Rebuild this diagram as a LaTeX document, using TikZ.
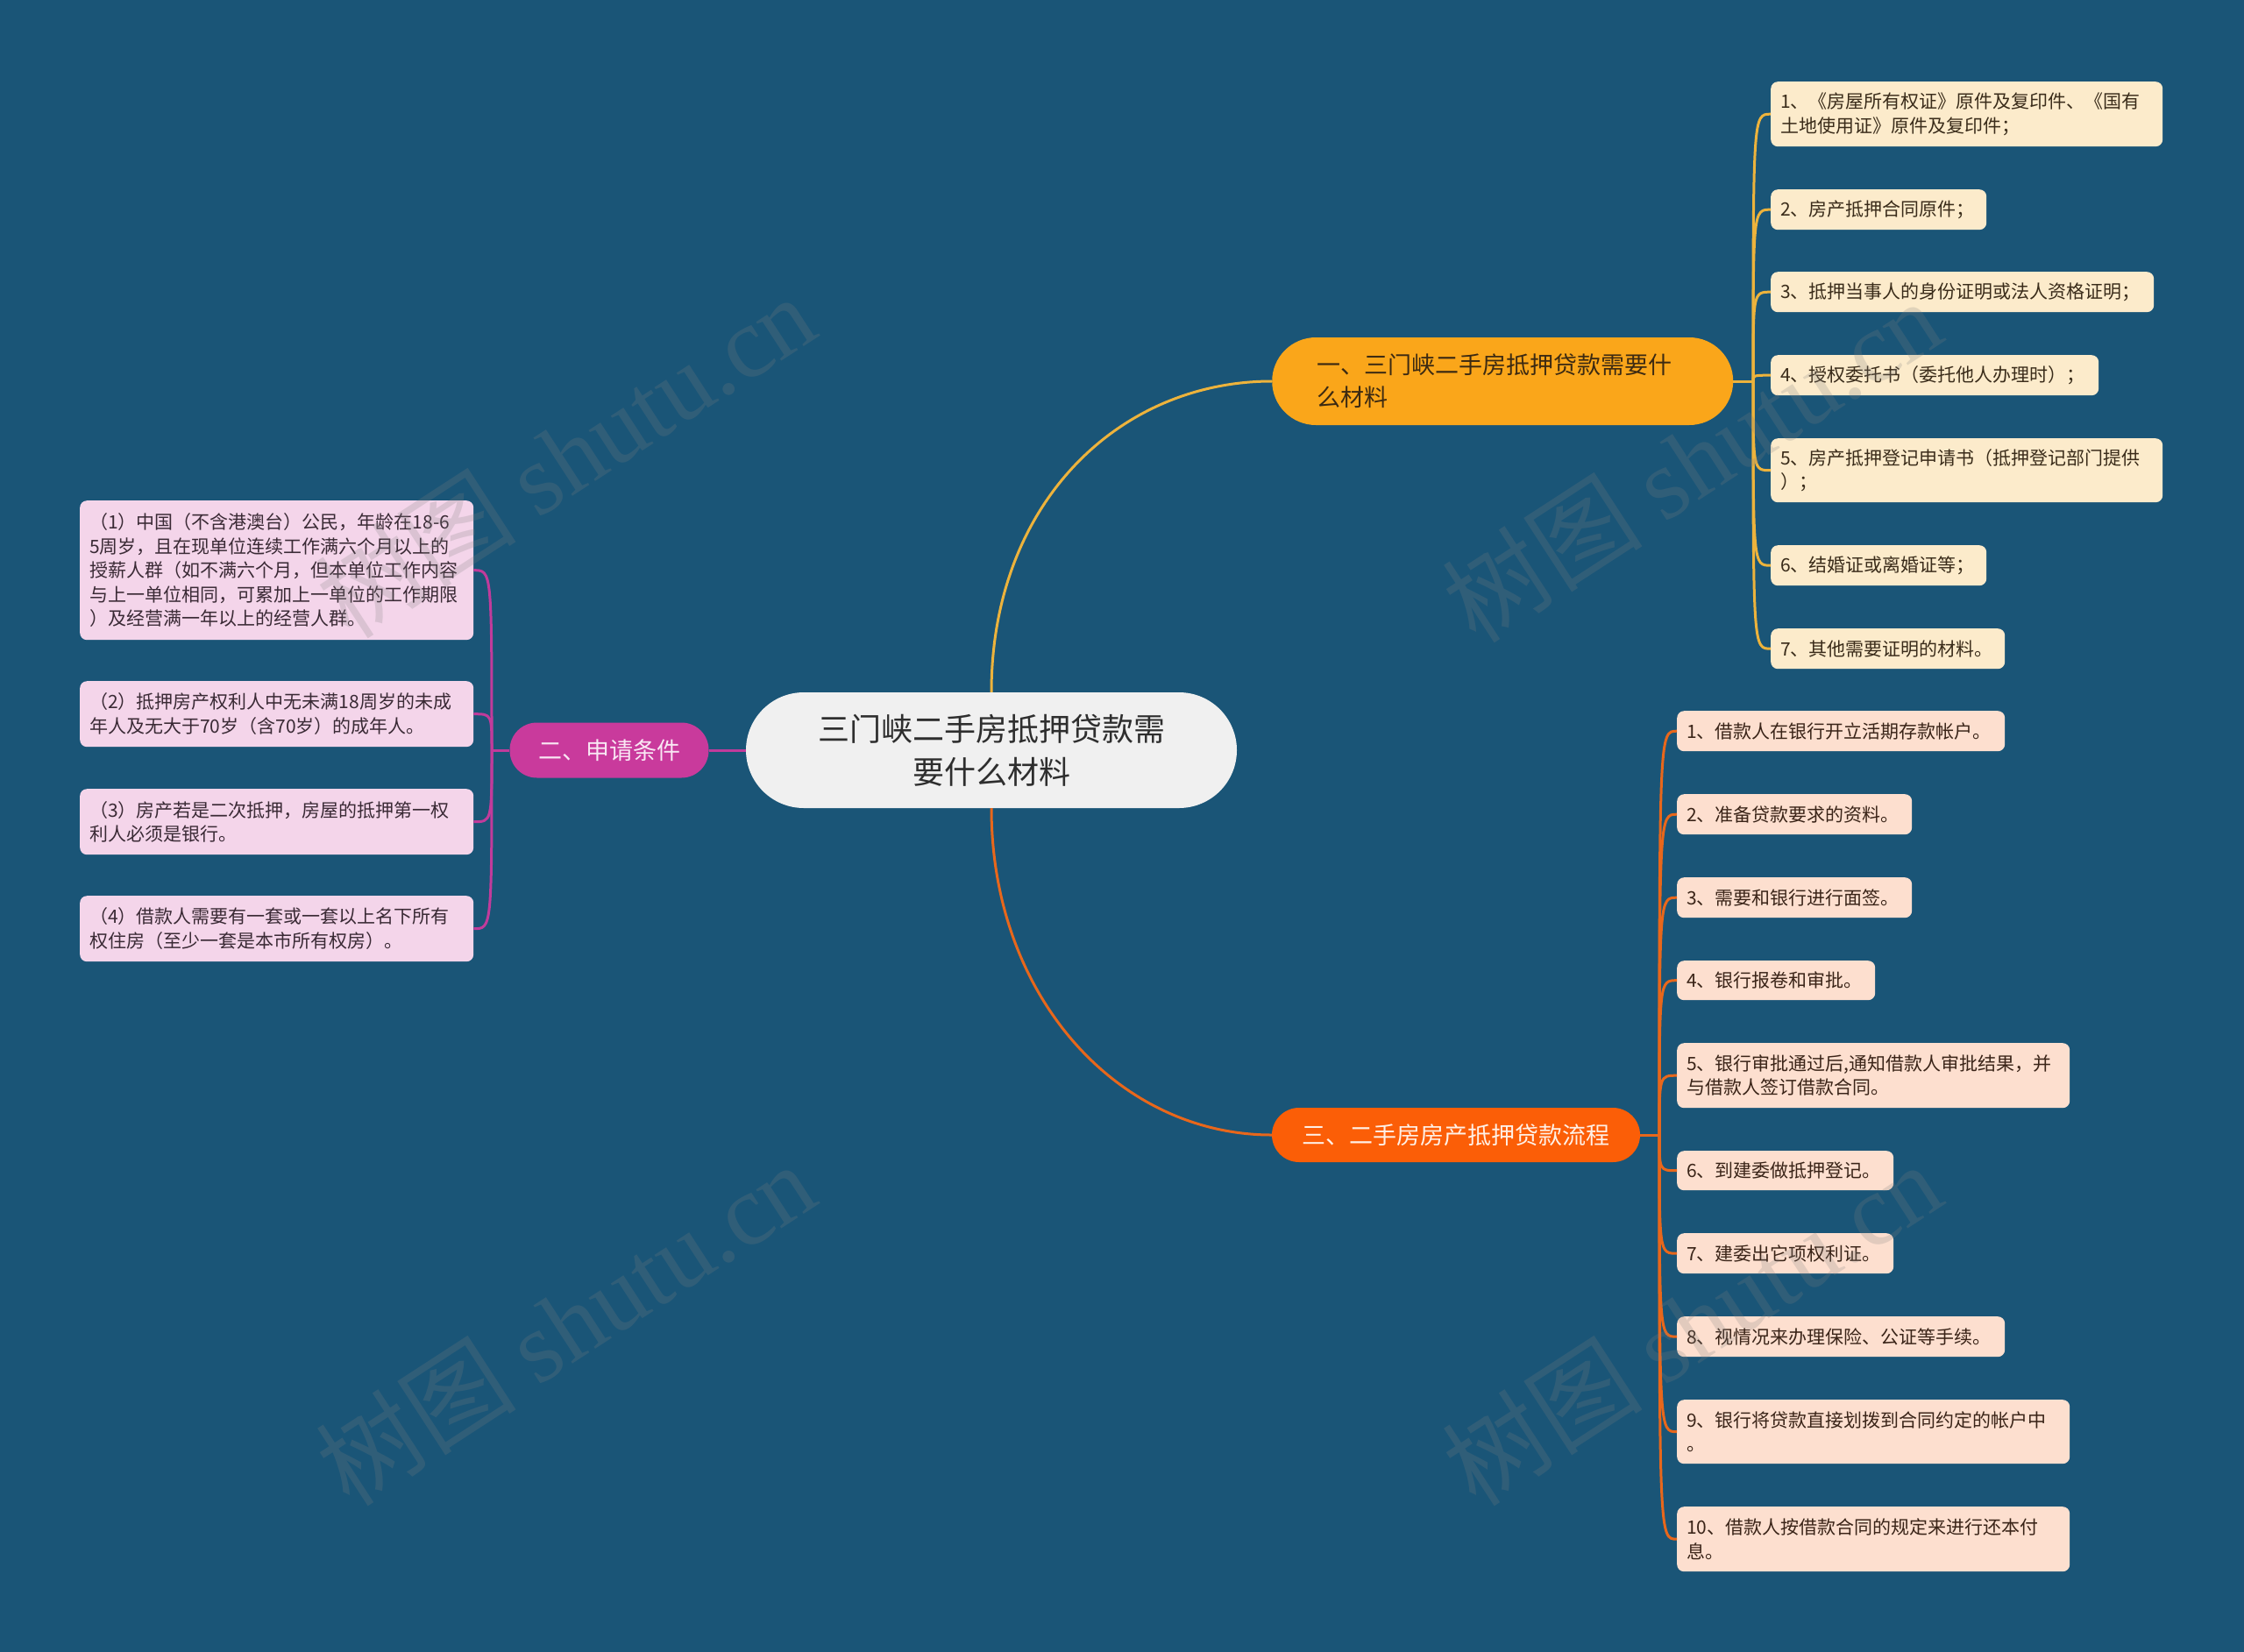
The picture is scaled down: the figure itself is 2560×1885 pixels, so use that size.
\documentclass[tikz,border=0pt]{standalone}
\usepackage{fontspec}
\setmainfont{Noto Sans CJK SC}
\newfontfamily\wmlatin{Liberation Serif}
\definecolor{bgc}{HTML}{1A5577}
\definecolor{ctrfill}{HTML}{F0F0F0}
\definecolor{ctrtext}{HTML}{2E2E2E}
\definecolor{oneFill}{HTML}{FAA61A}
\definecolor{oneText}{HTML}{3C2A12}
\definecolor{oneLine}{HTML}{EDB33C}
\definecolor{twoFill}{HTML}{C93A9C}
\definecolor{twoText}{HTML}{F9E6F3}
\definecolor{twoLine}{HTML}{C13B9B}
\definecolor{thrFill}{HTML}{FB5E07}
\definecolor{thrText}{HTML}{FFF0E6}
\definecolor{thrLine}{HTML}{E8671B}
\definecolor{creamFill}{HTML}{FCEBCB}
\definecolor{creamText}{HTML}{3A2C1A}
\definecolor{peachFill}{HTML}{FDDFCF}
\definecolor{peachText}{HTML}{3A2418}
\definecolor{pinkFill}{HTML}{F4D5EA}
\definecolor{pinkText}{HTML}{3A2A35}
\tikzset{
  leafbox/.style={rectangle, rounded corners=8pt, inner xsep=11pt, inner ysep=3pt,
    align=left, font=\fontsize{21}{27.5}\selectfont, anchor=north west},
  leafA/.style={leafbox, fill=creamFill, text=creamText},
  leafB/.style={leafbox, fill=peachFill, text=peachText},
  leafC/.style={leafbox, fill=pinkFill, text=pinkText},
  mainbox/.style={rectangle, inner sep=0pt, font=\fontsize{27}{37}\selectfont},
  wmark/.style={font=\fontsize{115}{115}\selectfont, text=gray, text opacity=0.22, rotate=33},
  lnA/.style={draw=oneLine, line width=3pt},
  lnB/.style={draw=thrLine, line width=3pt},
  lnC/.style={draw=twoLine, line width=3pt},
}
\begin{document}
\begin{tikzpicture}[x=1pt,y=-1pt]
\fill[bgc] (0,0) rectangle (2560,1885);
\useasboundingbox (0,0) rectangle (2560,1885);

% central node
\node[rectangle, rounded corners=66pt, fill=ctrfill, text=ctrtext, minimum width=560pt,
  minimum height=132pt, align=center, font=\fontsize{36}{49}\selectfont] (ctr) at (1131,856)
  {三门峡二手房抵押贷款需\\要什么材料};

% main branches
\node[mainbox, rounded corners=50pt, fill=oneFill, text=oneText, minimum width=526pt,
  minimum height=100pt, inner xsep=51pt, text width=424pt, align=left, anchor=west] (b1) at (1451,435)
  {一、三门峡二手房抵押贷款需要什\\么材料};
\node[mainbox, rounded corners=31pt, fill=twoFill, text=twoText, minimum width=227pt,
  minimum height=63pt] (b2) at (695,856) {二、申请条件};
\node[mainbox, rounded corners=31pt, fill=thrFill, text=thrText, minimum width=420pt,
  minimum height=62pt] (b3) at (1661,1295) {三、二手房房产抵押贷款流程};

% leaves of branch 1
\node[leafA, minimum width=447pt, minimum height=74pt, text width=425pt] (a1) at (2020,93)
  {1、《房屋所有权证》原件及复印件、《国有\\土地使用证》原件及复印件；};
\node[leafA, minimum width=246pt, minimum height=46pt, text width=224pt] (a2) at (2020,216)
  {2、房产抵押合同原件；};
\node[leafA, minimum width=437pt, minimum height=46pt, text width=415pt] (a3) at (2020,310)
  {3、抵押当事人的身份证明或法人资格证明；};
\node[leafA, minimum width=374pt, minimum height=46pt, text width=352pt] (a4) at (2020,405)
  {4、授权委托书（委托他人办理时）；};
\node[leafA, minimum width=447pt, minimum height=73pt, text width=425pt] (a5) at (2020,500)
  {5、房产抵押登记申请书（抵押登记部门提供\\）；};
\node[leafA, minimum width=246pt, minimum height=46pt, text width=224pt] (a6) at (2020,622)
  {6、结婚证或离婚证等；};
\node[leafA, minimum width=267pt, minimum height=46pt, text width=245pt] (a7) at (2020,717)
  {7、其他需要证明的材料。};

% leaves of branch 3
\node[leafB, minimum width=374pt, minimum height=46pt, text width=352pt] (c1) at (1913,811)
  {1、借款人在银行开立活期存款帐户。};
\node[leafB, minimum width=268pt, minimum height=46pt, text width=246pt] (c2) at (1913,906)
  {2、准备贷款要求的资料。};
\node[leafB, minimum width=268pt, minimum height=46pt, text width=246pt] (c3) at (1913,1001)
  {3、需要和银行进行面签。};
\node[leafB, minimum width=226pt, minimum height=45pt, text width=204pt] (c4) at (1913,1096)
  {4、银行报卷和审批。};
\node[leafB, minimum width=448pt, minimum height=74pt, text width=426pt] (c5) at (1913,1190)
  {5、银行审批通过后,通知借款人审批结果，并\\与借款人签订借款合同。};
\node[leafB, minimum width=247pt, minimum height=45pt, text width=225pt] (c6) at (1913,1313)
  {6、到建委做抵押登记。};
\node[leafB, minimum width=247pt, minimum height=46pt, text width=225pt] (c7) at (1913,1407)
  {7、建委出它项权利证。};
\node[leafB, minimum width=374pt, minimum height=46pt, text width=352pt] (c8) at (1913,1502)
  {8、视情况来办理保险、公证等手续。};
\node[leafB, minimum width=448pt, minimum height=73pt, text width=426pt] (c9) at (1913,1597)
  {9、银行将贷款直接划拨到合同约定的帐户中\\。};
\node[leafB, minimum width=448pt, minimum height=74pt, text width=426pt] (c10) at (1913,1719)
  {10、借款人按借款合同的规定来进行还本付\\息。};

% leaves of branch 2
\node[leafC, minimum width=449pt, minimum height=159pt, text width=427pt] (d1) at (91,571)
  {（1）中国（不含港澳台）公民，年龄在18-6\\5周岁，且在现单位连续工作满六个月以上的\\授薪人群（如不满六个月，但本单位工作内容\\与上一单位相同，可累加上一单位的工作期限\\）及经营满一年以上的经营人群。};
\node[leafC, minimum width=449pt, minimum height=75pt, text width=427pt] (d2) at (91,777)
  {（2）抵押房产权利人中无未满18周岁的未成\\年人及无大于70岁（含70岁）的成年人。};
\node[leafC, minimum width=449pt, minimum height=75pt, text width=427pt] (d3) at (91,900)
  {（3）房产若是二次抵押，房屋的抵押第一权\\利人必须是银行。};
\node[leafC, minimum width=449pt, minimum height=75pt, text width=427pt] (d4) at (91,1022)
  {（4）借款人需要有一套或一套以上名下所有\\权住房（至少一套是本市所有权房）。};

% connectors
\coordinate (s1) at (2000,435);
\coordinate (s3) at (1893,1295);
\coordinate (s2) at (561,856);

\path[lnA] (ctr.north) .. controls +(0,-215) and +(-175,0) .. (b1.west);
\path[lnB] (ctr.south) .. controls +(0,215) and +(-175,0) .. (b3.west);
\path[lnC] (ctr.west) -- (b2.east);

\path[lnA] (b1.east) -- (s1);
\foreach \n in {a1,a2,a3,a4,a5,a6,a7}
  \path[lnA] (s1) .. controls (s1 |- \n.west) .. (\n.west);
\path[lnB] (b3.east) -- (s3);
\foreach \n in {c1,c2,c3,c4,c5,c6,c7,c8,c9,c10}
  \path[lnB] (s3) .. controls (s3 |- \n.west) .. (\n.west);
\path[lnC] (b2.west) -- (s2);
\foreach \n in {d1,d2,d3,d4}
  \path[lnC] (s2) .. controls (s2 |- \n.east) .. (\n.east);

% watermarks
\node[wmark] (w1) at (645,520) {树图 {\wmlatin shutu.cn}};
\node[wmark] (w2) at (1930,525) {树图 {\wmlatin shutu.cn}};
\node[wmark] (w3) at (645,1510) {树图 {\wmlatin shutu.cn}};
\node[wmark] (w4) at (1930,1510) {树图 {\wmlatin shutu.cn}};
\end{tikzpicture}
\end{document}
